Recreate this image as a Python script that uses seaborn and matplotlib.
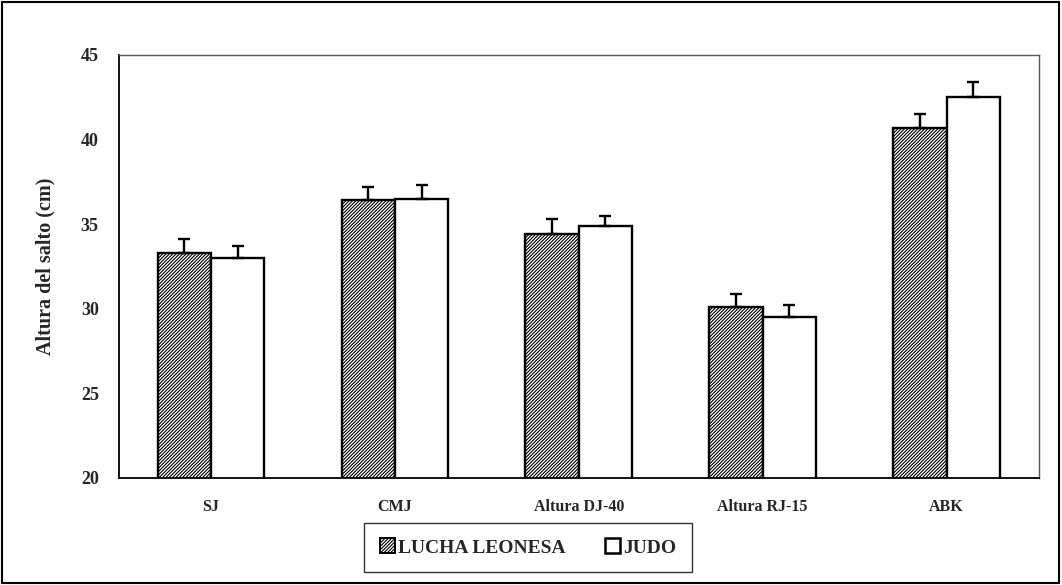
import seaborn as sns
import matplotlib.pyplot as plt
import matplotlib.patches as mpatches
import pandas as pd

categories = ['SJ', 'CMJ', 'Altura DJ-40', 'Altura RJ-15', 'ABK']
groups = ['LUCHA LEONESA', 'JUDO']
lucha = [33.3, 36.4, 34.4, 30.1, 40.7]
judo = [33.0, 36.5, 34.9, 29.5, 42.5]
lucha_err = [0.8, 0.8, 0.9, 0.8, 0.8]
judo_err = [0.7, 0.8, 0.6, 0.7, 0.9]
yticks = [20, 25, 30, 35, 40, 45]

df = pd.DataFrame({
    'prueba': categories * 2,
    'grupo': [groups[0]] * 5 + [groups[1]] * 5,
    'altura': lucha + judo,
})
errs = {groups[0]: lucha_err, groups[1]: judo_err}

sns.set_style('white')
plt.rcParams['font.family'] = ['Liberation Serif', 'DejaVu Serif']
plt.rcParams['hatch.linewidth'] = 0.8

HATCH = '/' * 10

fig = plt.figure(figsize=(10.62, 5.85), dpi=100)
ax = fig.add_axes([0.112, 0.183, 0.866, 0.723])

sns.barplot(data=df, x='prueba', y='altura', hue='grupo', hue_order=groups,
            palette=['white', 'white'], width=0.58, gap=0, edgecolor='black',
            linewidth=1.7, errorbar=None, ax=ax, legend=False)

# hatch + one-sided error bars placed on the bars
for cont, g in zip(ax.containers, groups):
    for bar, e in zip(cont, errs[g]):
        if g == groups[0]:
            bar.set_hatch(HATCH)
        cx = bar.get_x() + bar.get_width() / 2
        ax.errorbar(cx, bar.get_height(), yerr=[[0], [e]], fmt='none',
                    ecolor='black', elinewidth=1.7, capsize=4, capthick=1.7,
                    zorder=1)

ax.set_ylim(20, 45)
ax.set_yticks(yticks)
ax.set_yticklabels([str(v) for v in yticks], fontsize=13, fontweight='bold')
ax.set_xlim(-0.5, 4.5)
ax.set_xticks(range(5))
ax.set_xticklabels(categories, fontsize=11.5, fontweight='bold')
ax.set_xticks([i - 0.5 for i in range(6)], minor=True)
ax.tick_params(axis='x', which='major', length=0, pad=15)
ax.tick_params(axis='x', which='minor', length=5, width=1, direction='out', color='black')
ax.tick_params(axis='y', length=6.5, width=1, direction='out', color='black', pad=8)
ax.set_xlabel('')
ax.set_ylabel('Altura del salto (cm)', fontsize=14.5, fontweight='bold', labelpad=18)

for s in ['left', 'bottom']:
    ax.spines[s].set_color('black')
    ax.spines[s].set_linewidth(1.3)
for s in ['top', 'right']:
    ax.spines[s].set_color('#555555')
    ax.spines[s].set_linewidth(1.0)

handles = [mpatches.Patch(facecolor='white', edgecolor='black', hatch=HATCH, linewidth=1.4),
           mpatches.Patch(facecolor='white', edgecolor='black', linewidth=1.8)]
leg = fig.legend(handles, groups, loc='center', bbox_to_anchor=(0.497, 0.064), ncol=2,
                 frameon=True, fancybox=False, edgecolor='black', borderpad=0.8,
                 columnspacing=2.0, handlelength=0.8, handleheight=0.8, handletextpad=0.15,
                 prop={'weight': 'bold', 'size': 14})
leg.get_frame().set_linewidth(1.0)

fig.patches.append(mpatches.Rectangle((0.002, 0.003), 0.995, 0.994, transform=fig.transFigure,
                                      fill=False, edgecolor='black', linewidth=1.5))

plt.savefig('out.png', dpi=100)
